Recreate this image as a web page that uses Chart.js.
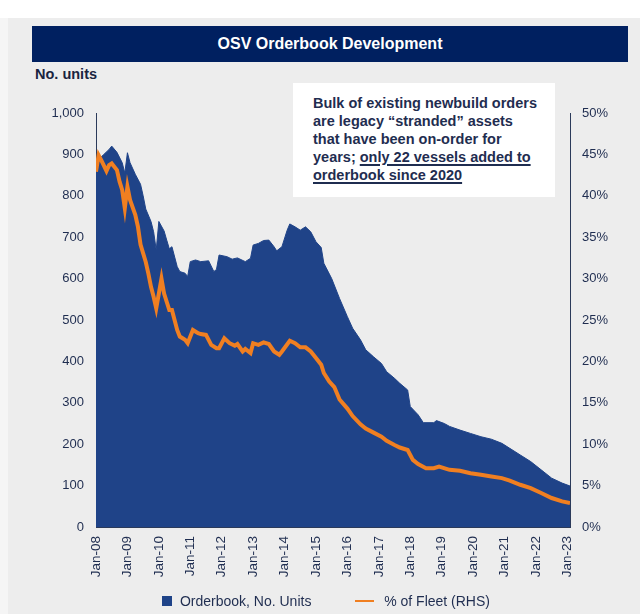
<!DOCTYPE html>
<html>
<head>
<meta charset="utf-8">
<script src="https://cdn.jsdelivr.net/npm/chart.js@4.4.1/dist/chart.umd.min.js"></script>
<style>
  body { margin: 0; width: 640px; height: 614px; background: #fff; position: relative; overflow: hidden;
         font-family: "Liberation Sans", Arial, sans-serif; }
  #strip { position: absolute; left: 0; top: 18px; width: 8px; bottom: 0; background: #F5F5F5; }
  #panel { position: absolute; left: 8px; top: 18px; right: 0; bottom: 0; background: #EDEDED; }
  #title { position: absolute; left: 32px; top: 26px; width: 596px; height: 36px; background: #002060;
           color: #fff; font-weight: bold; font-size: 16px; line-height: 36px; text-align: center; }
  #units { position: absolute; left: 35px; top: 66px; font-weight: bold; font-size: 14.5px; color: #1A2440; }
  #note { position: absolute; left: 293px; top: 83px; width: 242px; height: 103px; background: #fff;
          padding: 11px 0 0 20px; font-weight: bold; font-size: 14.5px; line-height: 18px; color: #1F2D50; z-index: 2; }
  #note u { text-decoration-thickness: 1.5px; text-underline-offset: 2px; }
  canvas { position: absolute; left: 0; top: 0; z-index: 1; }
  #legend { position: absolute; top: 592px; left: 162px; font-size: 14px; color: #1F2D50; z-index: 2; white-space: nowrap; }
  #legend span { display: inline-block; vertical-align: middle; }
</style>
</head>
<body>
<div id="strip"></div>
<div id="panel"></div>
<div id="title">OSV Orderbook Development</div>
<div id="units">No. units</div>
<div id="note">Bulk of existing newbuild orders<br>are legacy “stranded” assets<br>that have been on-order for<br>years; <u>only 22 vessels added to<br>orderbook since 2020</u></div>
<canvas id="osvChart" width="640" height="614"></canvas>
<div id="legend">
  <span style="width:10px;height:10px;background:#1F4388;"></span>
  <span style="margin-left:4px;">Orderbook, No. Units</span>
  <span style="width:19px;height:2px;background:#F07F21;margin-left:40px;"></span>
  <span style="margin-left:6px;">% of Fleet (RHS)</span>
</div>
<script>
// x axis labels, one per January (month index = 12 * i)
const yearLabels = ['Jan-08', 'Jan-09', 'Jan-10', 'Jan-11', 'Jan-12', 'Jan-13', 'Jan-14', 'Jan-15',
    'Jan-16', 'Jan-17', 'Jan-18', 'Jan-19', 'Jan-20', 'Jan-21', 'Jan-22', 'Jan-23'];

// Orderbook, no. units (months since Jan-08)
const orderMonths = [0, 1, 3, 5, 6, 8, 10, 11, 12, 13, 15, 17, 18, 19, 21, 22, 23, 24, 26, 27, 28, 29, 31, 32, 34, 35,
    36, 38, 40, 43, 45, 46, 47, 50, 52, 54, 57, 59, 60, 62, 64, 66, 68, 69, 71, 73, 74, 76, 78, 80, 82, 84, 86, 87,
    90, 93, 96, 98, 101, 103, 106, 109, 111, 114, 116, 119, 120, 123, 125, 129, 130, 133, 135, 139, 143, 147, 151,
    155, 158, 162, 166, 170, 174, 178, 181];
const orderUnits = [860, 888, 900, 912, 920, 905, 880, 855, 904, 880, 852, 828, 800, 768, 738, 713, 669, 738, 715, 693,
    672, 677, 629, 617, 613, 605, 641, 645, 641, 643, 617, 622, 657, 653, 647, 650, 641, 649, 681, 685, 692, 693,
    677, 667, 677, 717, 732, 725, 717, 725, 713, 689, 675, 637, 600, 552, 508, 480, 452, 428, 411, 395, 375, 359,
    347, 331, 291, 271, 252, 252, 257, 250, 243, 234, 226, 218, 212, 202, 190, 174, 158, 138, 118, 106, 99];

// % of fleet (RHS)
const fleetMonths = [0, 1, 2, 4, 5, 6, 8, 9, 10, 11, 12, 13, 15, 16, 17, 19, 20, 21, 22, 23, 25, 26, 28, 29, 31, 32,
    34, 35, 37, 39, 40, 42, 44, 46, 47, 49, 51, 53, 54, 56, 57, 59, 60, 62, 64, 66, 68, 70, 71, 74, 76, 78, 80, 82,
    84, 86, 87, 89, 91, 93, 96, 98, 101, 103, 106, 109, 111, 114, 116, 119, 121, 123, 126, 129, 131, 135, 139, 143,
    147, 151, 155, 158, 162, 166, 170, 174, 178, 181];
const fleetPct = [42.9, 44.9, 44.3, 43.0, 43.7, 43.9, 43.1, 41.7, 40.7, 38.5, 41.1, 39.5, 37.7, 36.3, 34.1, 32.0,
    30.6, 29.0, 27.8, 26.4, 30.0, 28.2, 26.2, 26.2, 23.8, 23.0, 22.6, 22.2, 23.8, 23.4, 23.3, 23.2, 22.0, 21.6, 21.6,
    22.8, 22.2, 21.9, 22.1, 21.2, 21.5, 21.0, 22.2, 22.0, 22.3, 22.1, 21.2, 20.8, 21.2, 22.5, 22.2, 21.7, 21.7, 21.2,
    20.4, 19.6, 18.6, 17.6, 16.9, 15.4, 14.3, 13.4, 12.4, 11.9, 11.4, 10.9, 10.4, 9.9, 9.6, 9.3, 8.1, 7.6, 7.1, 7.1,
    7.3, 6.9, 6.8, 6.5, 6.3, 6.1, 5.9, 5.6, 5.1, 4.7, 4.1, 3.5, 3.1, 2.9];

const NAVY = '#1F4388';
const ORANGE = '#F07F21';
const TEXT = '#1F2D50';
const AXIS = '#2B3A5A';

const toPoints = (xs, ys) => xs.map((m, i) => ({ x: m, y: ys[i] }));

const ctx = document.getElementById('osvChart').getContext('2d');
const chart = new Chart(ctx, {
    type: 'line',
    data: {
        datasets: [
            {
                label: '% of Fleet (RHS)',
                data: toPoints(fleetMonths, fleetPct),
                yAxisID: 'y1',
                borderColor: ORANGE,
                borderWidth: 4,
                pointRadius: 0,
                fill: false,
                order: 0
            },
            {
                label: 'Orderbook, No. Units',
                data: toPoints(orderMonths, orderUnits),
                yAxisID: 'y',
                borderColor: NAVY,
                borderWidth: 1,
                backgroundColor: NAVY,
                pointRadius: 0,
                fill: 'origin',
                order: 1
            }
        ]
    },
    options: {
        responsive: false,
        animation: false,
        layout: { padding: { top: 113, left: 0, right: 0, bottom: 0 } },
        plugins: { legend: { display: false }, tooltip: { enabled: false } },
        scales: {
            x: {
                type: 'linear',
                min: 0,
                max: 181,
                grid: { display: false, drawTicks: false },
                border: { display: true, color: AXIS },
                ticks: {
                    stepSize: 12,
                    includeBounds: false,
                    autoSkip: false,
                    minRotation: 90,
                    maxRotation: 90,
                    padding: 9,
                    color: TEXT,
                    font: { family: 'Liberation Sans', size: 13.5 },
                    callback: v => yearLabels[v / 12]
                },
                afterFit: s => { s.height = 87; }
            },
            y: {
                position: 'left',
                min: 0,
                max: 1000,
                grid: { display: false, drawTicks: false },
                border: { display: true, color: AXIS },
                ticks: {
                    stepSize: 100,
                    padding: 12,
                    color: TEXT,
                    font: { family: 'Liberation Sans', size: 13 },
                    callback: v => v.toLocaleString('en-US')
                },
                afterFit: s => { s.width = 96; }
            },
            y1: {
                position: 'right',
                min: 0,
                max: 50,
                grid: { display: false, drawTicks: false },
                border: { display: true, color: AXIS },
                ticks: {
                    stepSize: 5,
                    padding: 12,
                    color: TEXT,
                    font: { family: 'Liberation Sans', size: 13 },
                    callback: v => v + '%'
                },
                afterFit: s => { s.width = 70; }
            }
        }
    }
});
</script>
</body>
</html>
